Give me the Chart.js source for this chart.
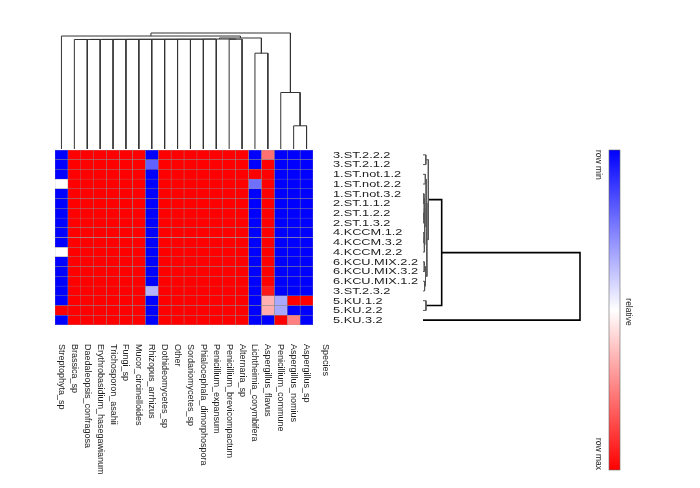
<!DOCTYPE html>
<html><head><meta charset="utf-8">
<script src="https://cdn.jsdelivr.net/npm/chart.js@4"></script>
<style>html,body{margin:0;padding:0;background:#fff}#wrap{width:700px;height:488px;position:relative}</style>
</head><body><div id="wrap"><canvas id="c"></canvas></div>
<script>
// ---- data ----
const species = ["Streptophyta_sp","Brassica_sp","Daedaleopsis_confragosa","Erythrobasidium_hasegawianum",
  "Trichosporon_asahii","Fungi_sp","Mucor_circinelloides","Rhizopus_arrhizus","Dothideomycetes_sp","Other",
  "Sordariomycetes_sp","Phialocephala_dimorphospora","Penicillium_expansum","Penicillium_brevicompactum",
  "Alternaria_sp","Lichtheimia_corymbifera","Aspergillus_flavus","Penicillium_commune","Aspergillus_nomius","Aspergillus_sp"];
const samples = ["3.ST.2.2.2","3.ST.2.1.2","1.ST.not.1.2","1.ST.not.2.2","1.ST.not.3.2","2.ST.1.1.2","2.ST.1.2.2",
  "2.ST.1.3.2","4.KCCM.1.2","4.KCCM.3.2","4.KCCM.2.2","6.KCU.MIX.2.2","6.KCU.MIX.3.2","6.KCU.MIX.1.2",
  "3.ST.2.3.2","5.KU.1.2","5.KU.2.2","5.KU.3.2"];
// relative value (0 = row min, 1 = row max)
const values = [
  [0,1,1,1,1,1,1,0,1,1,1,1,1,1,1,0,0.78,0,0,0],
  [0,1,1,1,1,1,1,0.19,1,1,1,1,1,1,1,0,1,0,0,0],
  [0,1,1,1,1,1,1,0,1,1,1,1,1,1,1,1,1,0,0,0],
  [0.5,1,1,1,1,1,1,0,1,1,1,1,1,1,1,0.22,1,0,0,0],
  [0,1,1,1,1,1,1,0,1,1,1,1,1,1,1,0,1,0,0,0],
  [0,1,1,1,1,1,1,0,1,1,1,1,1,1,1,0,1,0,0,0],
  [0,1,1,1,1,1,1,0,1,1,1,1,1,1,1,0,1,0,0,0],
  [0,1,1,1,1,1,1,0,1,1,1,1,1,1,1,0,1,0,0,0],
  [0,1,1,1,1,1,1,0,1,1,1,1,1,1,1,0,1,0,0,0],
  [0,1,1,1,1,1,1,0,1,1,1,1,1,1,1,0,1,0,0,0],
  [0.5,1,1,1,1,1,1,0,1,1,1,1,1,1,1,0,1,0,0,0],
  [0,1,1,1,1,1,1,0,1,1,1,1,1,1,1,0,1,0,0,0],
  [0,1,1,1,1,1,1,0,1,1,1,1,1,1,1,0,1,0,0,0],
  [0,1,1,1,1,1,1,0,1,1,1,1,1,1,1,0,1,0,0,0],
  [0,1,1,1,1,1,1,0.35,1,1,1,1,1,1,1,0,0.95,0,0,0],
  [0,1,1,1,1,1,1,0,1,1,1,1,1,1,1,0,0.655,0.33,1,1],
  [1,1,1,1,1,1,1,0,1,1,1,1,1,1,1,0,0.66,0.33,0,0],
  [0,1,1,1,1,1,1,0,1,1,1,1,1,1,1,0,0,1,0.75,0]
];
// column dendrogram (hclust style: negative = leaf number, positive = merge step)
const colMergeA = [-19,-18,-16,-2, 4, 5, 6, 7, 8, 9, 10, 11, 12, 13,-14,14,16,-1,18];
const colMergeB = [-20,  1,-17,-3,-4,-5,-6,-7,-8,-9,-10,-11,-12,-13,-15,15, 3,17, 2];
const colHeight = [0.20,0.487,0.826,0.944,0.9443,0.9446,0.9449,0.9452,0.9455,0.9458,0.9461,0.9464,0.9467,0.947,0.9465,0.948,0.957,0.974,1.0];
// row dendrogram
const rowMergeA = [-5,-7,1,-9,4,3,-3,7,-12,-14,9,8,-1,13,-16,14,-18];
const rowMergeB = [-6,-8,2,-10,-11,5,-4,6,-13,-15,10,11,-2,12,-17,15,16];
const rowHeight = [0.006,0.006,0.008,0.007,0.009,0.012,0.015,0.02,0.008,0.010,0.016,0.025,0.018,0.034,0.019,0.119,1.0];
const colorStops = ["#0000ff","#ffffff","#ff0000"];
const legendLabels = ["row min","relative","row max"];
const axisTitle = "Species";

// ---- helpers ----
function hex(c){return [1,3,5].map(i=>parseInt(c.substr(i,2),16));}
function cmap(v){
  const a = v<0.5?hex(colorStops[0]):hex(colorStops[1]);
  const b = v<0.5?hex(colorStops[1]):hex(colorStops[2]);
  const t = v<0.5? v/0.5 : (v-0.5)/0.5;
  const m = a.map((x,i)=>Math.round(x+(b[i]-x)*t));
  return `rgb(${m[0]},${m[1]},${m[2]})`;
}
function dendro(mA,mB,H){
  const pos=[],ht=[],segs=[];
  const get=k=>k<0?[-k-1+0.5,0]:[pos[k-1],ht[k-1]];
  mA.forEach((a,i)=>{
    const [pa,ha]=get(a),[pb,hb]=get(mB[i]),h=H[i];
    segs.push({p:[[pa,ha],[pa,h],[pb,h],[pb,hb]],h});
    pos[i]=(pa+pb)/2; ht[i]=h;
  });
  return segs;
}

// ---- layout (pixels) ----
const L={left:55,right:313,top:150,bottom:325,colBase:149,colPx:116,rowBase:423,rowPx:157};
const W=700,Hh=488;
const areaH=L.bottom-L.top, areaW=L.right-L.left;
const ydMax=(L.colBase-L.top)/L.colPx, ydMin=ydMax-areaH/L.colPx;
const xdMin=(L.left-L.rowBase)/L.rowPx, xdMax=xdMin+areaW/L.rowPx;

const datasets=[];
species.forEach((s,c)=>{
  datasets.push({type:'bar',indexAxis:'y',xAxisID:'xh',yAxisID:'yh',grouped:false,
    barPercentage:1,categoryPercentage:1,borderWidth:0.5,borderColor:'#8a8a8a',borderSkipped:false,
    data:samples.map((r,i)=>({y:i+0.5,x:[c,c+1]})),
    backgroundColor:values.map(row=>cmap(row[c]))});
});
function toPts(segs,swap,filter){
  const out=[];
  segs.filter(filter).forEach(s=>{s.p.forEach(([p,h])=>out.push(swap?{x:h,y:p}:{x:p,y:h}));out.push({x:null,y:null});});
  return out;
}
const cs=dendro(colMergeA,colMergeB,colHeight), rs=dendro(rowMergeA,rowMergeB,rowHeight);
const lineBase={type:'scatter',showLine:true,spanGaps:false,pointRadius:0,clip:false,fill:false};
datasets.push(Object.assign({},lineBase,{xAxisID:'xh',yAxisID:'yd',borderColor:'#333',borderWidth:1,data:toPts(cs,false,()=>true)}));
datasets.push(Object.assign({},lineBase,{xAxisID:'xd',yAxisID:'yh',borderColor:'#555',borderWidth:1,data:toPts(rs,true,s=>s.h<0.1)}));
datasets.push(Object.assign({},lineBase,{xAxisID:'xd',yAxisID:'yh',borderColor:'#000',borderWidth:1.6,data:toPts(rs,true,s=>s.h>=0.1)}));

const textPlugin={id:'txt',afterDraw(chart){
  const ctx=chart.ctx,xs=chart.scales.xh,ys=chart.scales.yh;
  ctx.save();
  ctx.fillStyle='#222';
  // row labels
  ctx.font='8.5px "Liberation Sans", Arial, sans-serif';
  ctx.textBaseline='middle';ctx.textAlign='left';
  samples.forEach((s,i)=>{
    const y=ys.getPixelForValue(i+0.5);
    ctx.save();ctx.translate(xs.right+20,y);ctx.scale(1.5,1);ctx.fillText(s,0,0.5);ctx.restore();
  });
  // column labels
  ctx.font='9px "Liberation Sans", Arial, sans-serif';
  const colTxt=species.map((s,c)=>[s,xs.getPixelForValue(c+0.5)]);
  colTxt.push([axisTitle,xs.right+12]);
  colTxt.forEach(([s,x])=>{
    ctx.save();ctx.translate(x,ys.bottom+19);ctx.rotate(Math.PI/2);ctx.fillText(s,0,0);ctx.restore();
  });
  // colour key
  const kx=609,kw=11,kt=150,kb=470;
  const g=ctx.createLinearGradient(0,kt,0,kb);
  colorStops.forEach((c,i)=>g.addColorStop(i/(colorStops.length-1),c));
  ctx.fillStyle=g;ctx.fillRect(kx,kt,kw,kb-kt);
  ctx.strokeStyle='#666';ctx.lineWidth=0.6;ctx.strokeRect(kx,kt,kw,kb-kt);
  ctx.fillStyle='#222';ctx.font='8.5px "Liberation Sans", Arial, sans-serif';
  const lab=(s,x,y,align)=>{ctx.save();ctx.translate(x,y);ctx.rotate(Math.PI/2);ctx.textAlign=align;ctx.fillText(s,0,0);ctx.restore();};
  lab(legendLabels[0],598,kt,'left');
  lab(legendLabels[1],628,(kt+kb)/2+2,'center');
  lab(legendLabels[2],598,kb,'right');
  ctx.restore();
}};

new Chart(document.getElementById('c'),{
  type:'bar',
  data:{datasets},
  options:{responsive:true,maintainAspectRatio:false,animation:false,
    layout:{padding:{left:L.left,right:W-L.right,top:L.top,bottom:Hh-L.bottom}},
    plugins:{legend:{display:false},tooltip:{enabled:false}},
    scales:{
      xh:{type:'linear',axis:'x',min:0,max:species.length,display:false,offset:false,bounds:'data'},
      yh:{type:'linear',axis:'y',min:0,max:samples.length,reverse:true,display:false,offset:false,beginAtZero:false,bounds:'data'},
      yd:{type:'linear',axis:'y',min:ydMin,max:ydMax,display:false,offset:false,beginAtZero:false,bounds:'data'},
      xd:{type:'linear',axis:'x',min:xdMin,max:xdMax,display:false,offset:false,beginAtZero:false,bounds:'data'}
    }},
  plugins:[textPlugin]
});
</script></body></html>
